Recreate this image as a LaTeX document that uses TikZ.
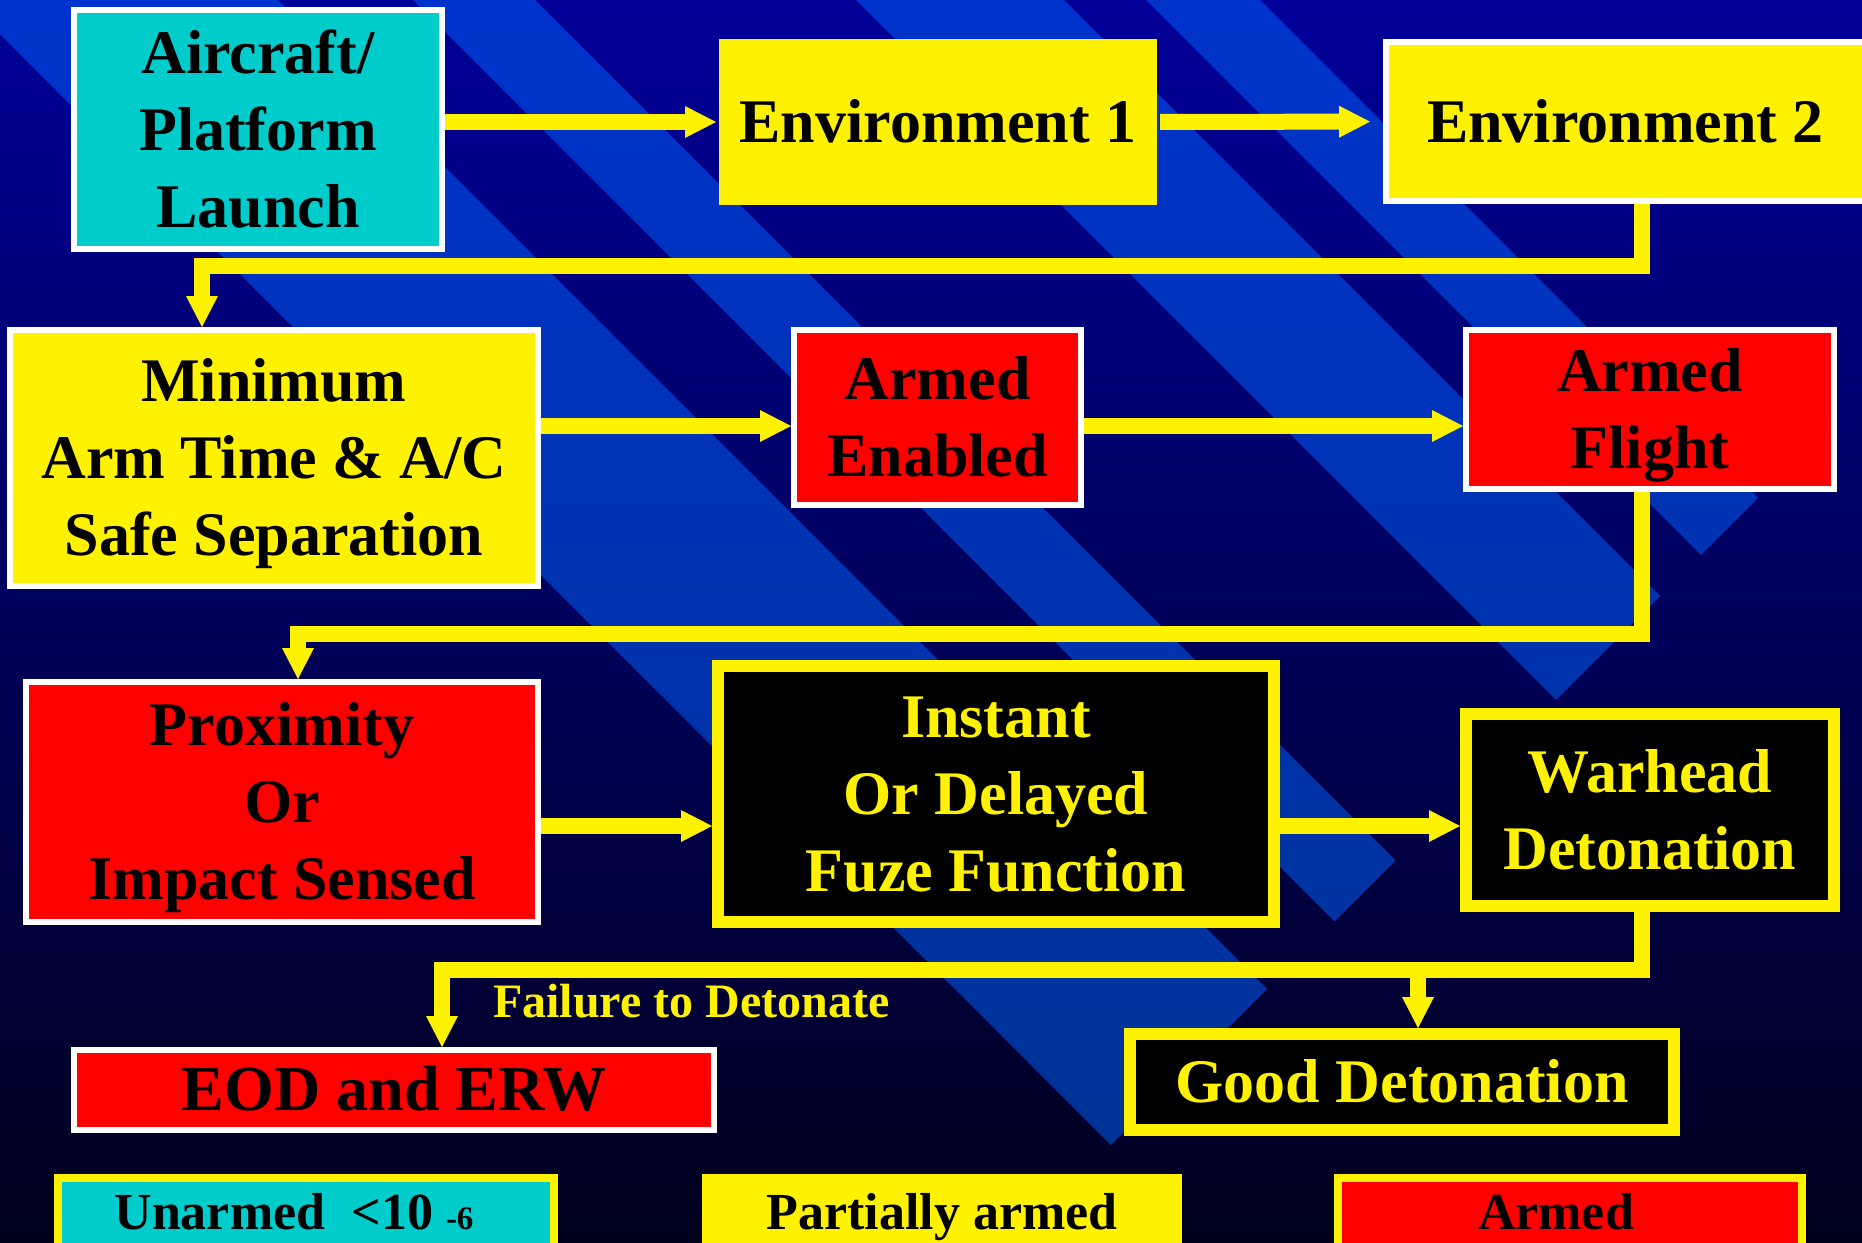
\documentclass[tikz,border=0pt]{standalone}
\usepackage{fontspec}
\setmainfont{Liberation Serif}
\usetikzlibrary{arrows.meta}
\definecolor{bgtop}{RGB}{0,0,153}
\definecolor{bgbottom}{RGB}{0,0,28}
\definecolor{stripe}{RGB}{0,51,204}
\definecolor{boxcyan}{RGB}{0,204,204}
% cap-height struts, so the text sits in the middle of each box
\newcommand{\stagetext}[1]{\rule{0pt}{55pt}#1\rule[-14pt]{0pt}{0pt}}
\tikzset{
    safebox/.style={
    rectangle,draw=white,line width=6pt,fill=boxcyan,inner sep=0pt,align=center,
    font=\fontsize{62}{77}\selectfont\bfseries
    },
    partbox/.style={
    safebox,fill=yellow
    },
    plainpart/.style={
    safebox,draw=none,fill=yellow
    },
    armbox/.style={
    safebox,fill=red
    },
    firebox/.style={
    safebox,draw=yellow,line width=12pt,fill=black,text=yellow
    },
    keybox/.style={
    rectangle,draw=yellow,line width=8pt,inner sep=0pt,
    text height=36pt,text depth=14pt,
    font=\fontsize{52}{60}\selectfont\bfseries
    },
    failtext/.style={
    text=yellow,inner sep=0pt,font=\fontsize{48}{56}\selectfont\bfseries
    },
    flow/.style={
    color=yellow,line width=16pt,line join=miter,
    -{Triangle[length=31pt,width=32pt,line width=0pt]}
    },
}
\begin{document}
\begin{tikzpicture}[x=1pt, y=-1pt]
   \path[use as bounding box] (0,0) rectangle (1862,1242);
   \clip (0,0) rectangle (1862,1242);
   % backdrop and stripes
   \shade[top color=bgtop, bottom color=bgbottom] (0,0) rectangle (1862,1242);
   \shade[top color=stripe, bottom color={rgb,255:red,0;green,51;blue,150}]
     (-34,0) -- (278,0) -- (1267,989) -- (1111,1145) -- cycle;
   \shade[top color=stripe, bottom color={rgb,255:red,0;green,51;blue,161}]
     (413,0) -- (535,0) -- (1395.5,860.5) -- (1334.5,921.5) -- cycle;
   \shade[top color=stripe, bottom color={rgb,255:red,0;green,51;blue,171}]
     (856,0) -- (1064,0) -- (1660,596) -- (1556,700) -- cycle;
   \shade[top color=stripe, bottom color={rgb,255:red,0;green,51;blue,178}]
     (1146,0) -- (1260,0) -- (1758,498) -- (1701,555) -- cycle;

   % stages
   \node[safebox, minimum width=368pt, minimum height=239pt] (launch) at (258,129.5) {\stagetext{Aircraft/\\Platform\\Launch}};
   \node[plainpart, minimum width=438pt, minimum height=166pt] (envone) at (938,122) {\stagetext{Environment 1}};
   \node[partbox, minimum width=479pt, minimum height=159pt] (envtwo) at (1625.5,121.5) {\stagetext{Environment 2}};
   \node[partbox, minimum width=528pt, minimum height=256pt] (minarm) at (274,458) {\stagetext{Minimum\\Arm Time \& A/C\\Safe Separation}};
   \node[armbox, minimum width=287pt, minimum height=175pt] (armen) at (937.5,417.5) {\stagetext{Armed\\Enabled}};
   \node[armbox, minimum width=368pt, minimum height=159pt] (armfl) at (1650,409.5) {\stagetext{Armed\\Flight}};
   \node[armbox, minimum width=512pt, minimum height=240pt] (prox) at (282,802) {\stagetext{Proximity\\Or\\Impact Sensed}};
   \node[firebox, minimum width=556pt, minimum height=256pt] (fuze) at (996,794) {\stagetext{Instant\\Or Delayed\\Fuze Function}};
   \node[firebox, minimum width=368pt, minimum height=192pt] (warhead) at (1650,810) {\stagetext{Warhead\\Detonation}};
   \node[armbox, minimum width=640pt, minimum height=80pt, font=\fontsize{64}{77}\selectfont\bfseries] (eod) at (394,1090) {\stagetext{EOD and ERW}};
   \node[firebox, minimum width=544pt, minimum height=96pt] (good) at (1402,1082) {\stagetext{Good Detonation}};
   \node[failtext, anchor=base west] (failure) at (493,1017) {Failure to Detonate};

   % key
   \node[keybox, fill=boxcyan, minimum width=496pt, minimum height=80pt] (keysafe) at (306,1218) {Unarmed\ \ <10 {\fontsize{33}{33}\selectfont -6}\hspace*{24pt}};
   \node[keybox, draw=none, fill=yellow, minimum width=480pt, minimum height=88pt] (keypart) at (942,1218) {Partially armed};
   \node[keybox, fill=red, minimum width=464pt, minimum height=80pt] (keyarm) at (1570,1218) {Armed\hspace*{28pt}};

   % links
   \coordinate (spine) at (1642,0);
   \coordinate (rowtwo) at (0,426);
   \coordinate (rowthree) at (0,826);
   \coordinate (turnone) at (1642,266);
   \coordinate (dropone) at (202,266);
   \coordinate (turntwo) at (1642,634);
   \coordinate (droptwo) at (298,634);
   \coordinate (turnthree) at (1642,970);
   \coordinate (dropthree) at (442,970);
   \coordinate (forkgood) at (1418,970);

  \path[flow]
    (launch.east |- envone.west) edge (envone.west)
    (envone) edge[shorten >=13pt] (envtwo)
    (minarm.east |- rowtwo) edge (armen.west |- rowtwo)
    (armen.east |- rowtwo) edge (armfl.west |- rowtwo)
    (prox.east |- rowthree) edge (fuze.west |- rowthree)
    (fuze.east |- rowthree) edge (warhead.west |- rowthree);
  \draw[flow] (envtwo.south -| spine) -- (turnone) -- (dropone) -- (dropone |- minarm.north);
  \draw[flow] (armfl.south -| spine) -- (turntwo) -- (droptwo) -- (droptwo |- prox.north);
  \draw[flow] (warhead.south -| spine) -- (turnthree) -- (dropthree) -- (dropthree |- eod.north);
  \draw[flow] (forkgood) -- (forkgood |- good.north);
\end{tikzpicture}
\end{document}
